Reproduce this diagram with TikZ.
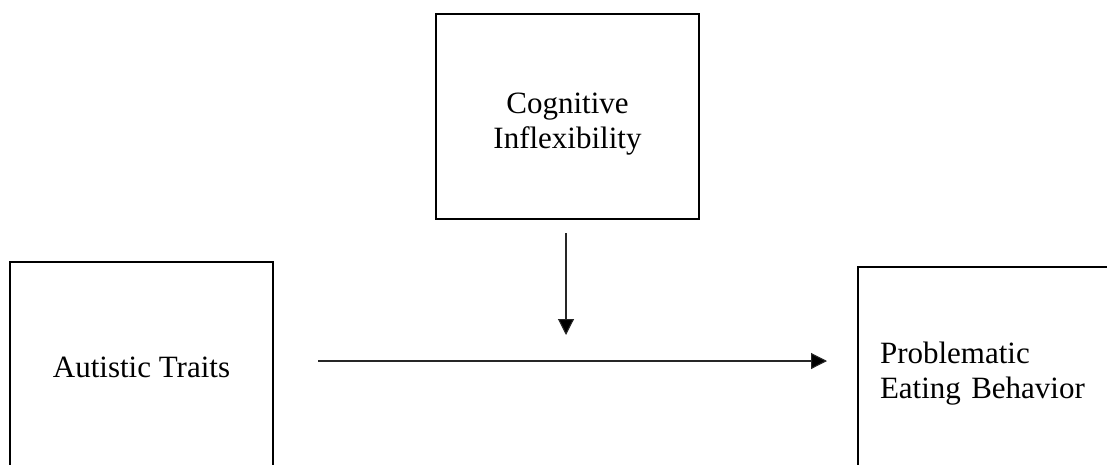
\documentclass[tikz,border=0pt]{standalone}
\usepackage{fontspec}
\setmainfont{Liberation Serif}
\usetikzlibrary{arrows.meta,calc}
\tikzset{
  boxnode/.style={draw=black, line width=2pt, inner sep=0pt, font=\fontsize{31}{35}\selectfont},
  conn/.style={line width=1.1pt, draw=black!85, -{Triangle[length=16pt,width=16pt,fill=black]}}
}
\begin{document}
\begin{tikzpicture}[x=1pt,y=-1pt]
\clip (0,0) rectangle (1107,464);
\fill[white] (0,0) rectangle (1107,464);
\node[boxnode, minimum width=263pt, minimum height=205pt, align=center] (cog) at (567.5,116.5) {\rule{0pt}{35pt}Cognitive\\Inflexibility};
\node[boxnode, minimum width=263pt, minimum height=210pt] (aut) at (141.5,367) {Autistic Traits};
\node[boxnode, anchor=north west, minimum height=213pt, inner xsep=22pt, text width=226pt, align=left] (prob) at (857,266) {Problematic\\Eating Behavior};
\coordinate (vs) at ($(cog.south)+(-1.5,13)$);
\coordinate (vt) at (566,335);
\coordinate (hs) at ($(aut.east)+(44,-6)$);
\coordinate (he) at ($(hs -| prob.west)+(-30,0)$);
\draw[conn] (vs) -- (vt);
\draw[conn] (hs) -- (he);
\end{tikzpicture}
\end{document}
